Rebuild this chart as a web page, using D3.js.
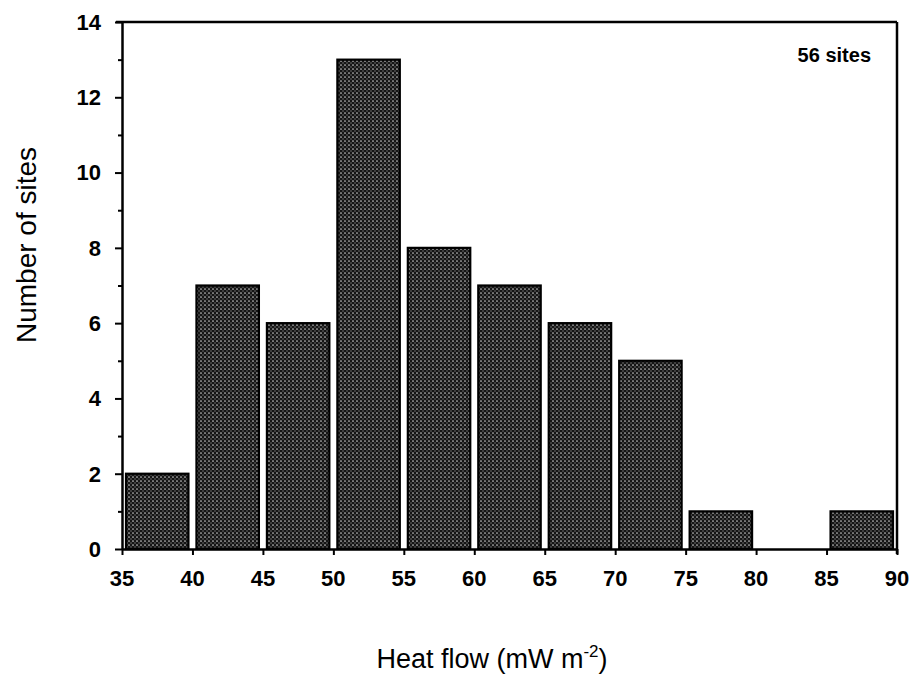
<!DOCTYPE html>
<html>
<head>
<meta charset="utf-8">
<script src="https://cdnjs.cloudflare.com/ajax/libs/d3/7.8.5/d3.min.js"></script>
<style>
  body { margin: 0; background: #fff; }
  text { font-family: "Liberation Sans", Arial, sans-serif; fill: #000; }
</style>
</head>
<body>
<svg id="chart" width="913" height="686"></svg>
<script>
var binStarts = [35, 40, 45, 50, 55, 60, 65, 70, 75, 80, 85];
var binWidth = 5;
var counts = [2, 7, 6, 13, 8, 7, 6, 5, 1, 0, 1];
var xTicks = [35, 40, 45, 50, 55, 60, 65, 70, 75, 80, 85, 90];
var yTicks = [0, 2, 4, 6, 8, 10, 12, 14];

var svg = d3.select('#chart');
var mLeft = 122, mRight = 897, mTop = 22, mBottom = 549;

var x = d3.scaleLinear().domain([35, 90]).range([mLeft, mRight]);
var y = d3.scaleLinear().domain([0, 14]).range([mBottom, mTop]);

// stipple pattern for the bars
var defs = svg.append('defs');
var pat = defs.append('pattern')
  .attr('id', 'stipple')
  .attr('patternUnits', 'userSpaceOnUse')
  .attr('width', 4).attr('height', 4);
pat.append('rect').attr('width', 4).attr('height', 4).attr('fill', '#151515');
pat.append('circle').attr('cx', 1).attr('cy', 1).attr('r', 0.85).attr('fill', '#c8c8c8');
pat.append('circle').attr('cx', 3).attr('cy', 3).attr('r', 0.7).attr('fill', '#888');

// bars
var bins = binStarts.map(function (b, i) { return { start: b, n: counts[i] }; })
  .filter(function (d) { return d.n > 0; });

svg.append('g')
  .selectAll('rect')
  .data(bins)
  .enter()
  .append('rect')
  .attr('x', function (d) { return x(d.start) + 4; })
  .attr('width', function (d) { return x(d.start + binWidth) - x(d.start) - 8; })
  .attr('y', function (d) { return y(d.n); })
  .attr('height', function (d) { return mBottom - y(d.n); })
  .attr('fill', 'url(#stipple)')
  .attr('stroke', '#000')
  .attr('stroke-width', 2.2);

// frame: top and right
svg.append('line').attr('x1', mLeft - 6).attr('x2', mRight).attr('y1', mTop).attr('y2', mTop)
  .attr('stroke', '#000').attr('stroke-width', 2.5);
svg.append('line').attr('x1', mRight).attr('x2', mRight).attr('y1', mTop).attr('y2', mBottom + 5)
  .attr('stroke', '#000').attr('stroke-width', 2.5);

// y axis
var yAxis = svg.append('g')
  .attr('transform', 'translate(' + mLeft + ',0)')
  .call(d3.axisLeft(y).tickValues(d3.range(0, 15, 1)).tickSize(6).tickSizeOuter(0).tickFormat(''));
yAxis.select('.domain').attr('stroke-width', 2.5);
yAxis.selectAll('.tick line').attr('stroke-width', 2)
  .attr('x2', function (d) { return d % 2 === 0 ? -7 : -4; });
svg.append('g')
  .selectAll('text')
  .data(yTicks)
  .enter()
  .append('text')
  .attr('x', mLeft - 21)
  .attr('y', function (d) { return y(d); })
  .attr('dy', '0.36em')
  .attr('text-anchor', 'end')
  .attr('font-size', 22)
  .attr('font-weight', 'bold')
  .text(function (d) { return d; });

// x axis
var xAxis = svg.append('g')
  .attr('transform', 'translate(0,' + mBottom + ')')
  .call(d3.axisBottom(x).tickValues(xTicks).tickSize(6).tickSizeOuter(0).tickFormat(''));
xAxis.select('.domain').attr('stroke-width', 2.5);
xAxis.selectAll('.tick line').attr('stroke-width', 2);
svg.append('g')
  .selectAll('text')
  .data(xTicks)
  .enter()
  .append('text')
  .attr('x', function (d) { return x(d); })
  .attr('y', mBottom + 37)
  .attr('text-anchor', 'middle')
  .attr('font-size', 22)
  .attr('font-weight', 'bold')
  .text(function (d) { return d; });

// labels
svg.append('text')
  .attr('x', 871).attr('y', 62)
  .attr('text-anchor', 'end')
  .attr('font-size', 20)
  .attr('font-weight', 'bold')
  .text('56 sites');

svg.append('text')
  .attr('transform', 'translate(36,245) rotate(-90)')
  .attr('text-anchor', 'middle')
  .attr('font-size', 28)
  .text('Number of sites');

var xt = svg.append('text')
  .attr('x', 492).attr('y', 668)
  .attr('text-anchor', 'middle')
  .attr('font-size', 27);
xt.append('tspan').text('Heat flow (mW m');
xt.append('tspan').attr('dy', -11).attr('font-size', 17).text('-2');
xt.append('tspan').attr('dy', 11).text(')');
</script>
</body>
</html>
